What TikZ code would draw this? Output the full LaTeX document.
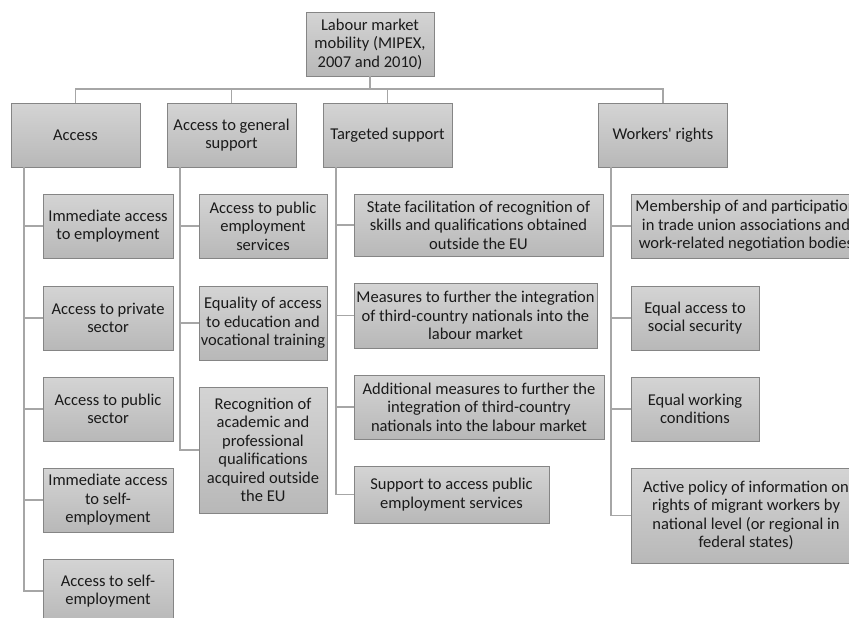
\documentclass[tikz,border=0pt]{standalone}
\usepackage{fontspec}
\setmainfont{Carlito}
\usetikzlibrary{positioning}

\definecolor{boxtop}{HTML}{D4D4D4}
\definecolor{boxbot}{HTML}{B8B8B8}
\definecolor{boxline}{HTML}{858585}
\definecolor{linkgray}{HTML}{A6A6A6}
\definecolor{txt}{HTML}{1A1A1A}

\begin{document}
\begin{tikzpicture}[
    x=0.02cm, y=-0.02cm,
    box/.style={rectangle, draw=boxline, line width=0.5pt, top color=boxtop, bottom color=boxbot,
        align=center, inner sep=1pt, text=txt, minimum height=1.28cm, minimum width=2.58cm,
        font=\fontsize{9.4}{10.5}\selectfont},
    link/.style={draw=linkgray, line width=1.1pt}
]
\clip (0,0) rectangle (849,618);

% RACINE
\node[box, minimum width=2.56cm] (root) at (370,44) {Labour market\\mobility (MIPEX,\\2007 and 2010)};
\coordinate (bar) at (370,89);

% NIVEAU 1
\node[box] (access) at (75.5,135) {Access};
\node[box] (gensup) at (231.5,135) {Access to general\\support};
\node[box] (target) at (387.5,135) {Targeted support};
\node[box] (workers) at (663,135) {Workers\textquotesingle\ rights};

% Access
\node[box, minimum width=2.6cm] (acc1) at (108,226) {Immediate access\\to employment};
\node[box, minimum width=2.6cm] (acc2) at (108,318) {Access to private\\sector};
\node[box, minimum width=2.6cm] (acc3) at (108,409) {Access to public\\sector};
\node[box, minimum width=2.6cm] (acc4) at (108,500) {Immediate access\\to self-\\employment};
\node[box, minimum width=2.6cm] (acc5) at (108,591) {Access to self-\\employment};

% Access to general support
\node[box, minimum width=2.56cm] (gen1) at (263,226) {Access to public\\employment\\services};
\node[box, minimum width=2.56cm, minimum height=1.48cm] (gen2) at (263,323) {Equality of access\\to education and\\vocational training};
\node[box, minimum width=2.56cm, minimum height=2.52cm] (gen3) at (263,450) {Recognition of\\academic and\\professional\\qualifications\\acquired outside\\the EU};

% Targeted support
\node[box, minimum width=4.98cm, minimum height=1.24cm] (tar1) at (478.5,225) {State facilitation of recognition of\\skills and qualifications obtained\\outside the EU};
\node[box, minimum width=4.86cm, minimum height=1.3cm] (tar2) at (475.5,315.5) {Measures to further the integration\\of third-country nationals into the\\labour market};
\node[box, minimum width=5cm] (tar3) at (479,407) {Additional measures to further the\\integration of third-country\\nationals into the labour market};
\node[box, minimum width=3.9cm, minimum height=1.14cm] (tar4) at (451.5,494.5) {Support to access public\\employment services};

% Workers' rights
\node[box, minimum width=4.6cm] (wor1) at (746,226) {Membership of and participation\\in trade union associations and\\work-related negotiation bodies};
\node[box, minimum width=2.56cm] (wor2) at (695,318) {Equal access to\\social security};
\node[box, minimum width=2.56cm] (wor3) at (695,409) {Equal working\\conditions};
\node[box, minimum width=4.6cm, minimum height=1.9cm] (wor4) at (746,515.5) {Active policy of information on\\rights of migrant workers by\\national level (or regional in\\federal states)};

% LIENS RACINE
\draw[link] (root.south) -- (bar);
\draw[link] (bar) -| (access.north);
\draw[link] (bar) -| (gensup.north);
\draw[link] (bar) -| (target.north);
\draw[link] (bar) -| (workers.north);

% LIENS NIVEAU 2
\foreach \c in {acc1,acc2,acc3,acc4,acc5}
    \draw[link] ([xshift=0.26cm]access.south west) |- (\c.west);
\foreach \c in {gen1,gen2,gen3}
    \draw[link] ([xshift=0.26cm]gensup.south west) |- (\c.west);
\foreach \c in {tar1,tar2,tar3,tar4}
    \draw[link] ([xshift=0.26cm]target.south west) |- (\c.west);
\foreach \c in {wor1,wor2,wor3,wor4}
    \draw[link] ([xshift=0.26cm]workers.south west) |- (\c.west);

\end{tikzpicture}
\end{document}
